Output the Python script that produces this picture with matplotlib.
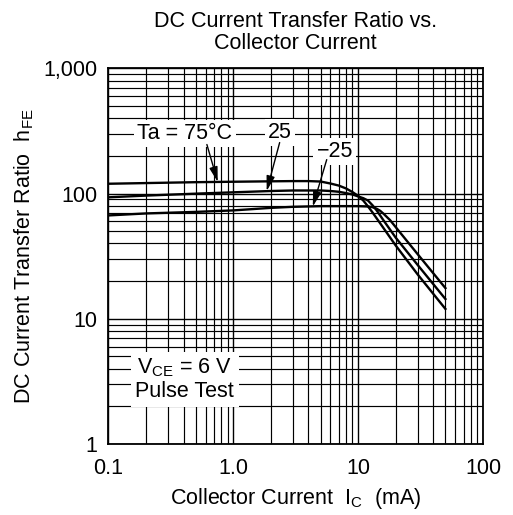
'''
hFE vs collector current, datasheet style log-log chart
'''

import matplotlib
matplotlib.use("Agg")
import matplotlib.pyplot as plt

plt.rcParams["font.family"] = ["Liberation Sans", "DejaVu Sans"]
plt.rcParams["mathtext.fontset"] = "custom"
plt.rcParams["mathtext.rm"] = "Liberation Sans"

# curve data (Ic in mA, hFE)
ic_75 = [0.1, 0.2, 0.5, 1, 2, 3, 4, 5, 6, 7, 8, 9, 10, 11, 12, 13, 15, 20, 30, 50]
hfe_75 = [120, 121.5, 123.5, 124.5, 125.5, 126, 126, 125, 120.5, 116, 110, 103, 96,
          88, 79, 71, 58, 38.5, 22.6, 12]

ic_25 = [0.1, 0.2, 0.5, 1, 2, 3, 5, 6, 7, 8, 9, 10, 11, 12, 13, 14, 16, 20, 30, 50]
hfe_25 = [93.5, 96.5, 100, 102.5, 105, 106, 106, 105, 103.5, 101, 98.5, 95, 92,
          88, 81, 74, 61, 44.5, 26.9, 14.4]

ic_m25 = [0.1, 0.2, 0.5, 1, 2, 3, 5, 8, 10, 12, 13, 14, 15, 16, 17, 18, 20, 30, 50]
hfe_m25 = [67, 69.5, 71.5, 73.5, 77, 78.5, 79.5, 79.5, 79.5, 79, 78, 76, 73, 69,
           65, 61.5, 54, 32.8, 17.6]

x_ticks = [0.1, 1, 10, 100]
x_ticklabels = ["0.1", "1.0", "10", "100"]
y_ticks = [1, 10, 100, 1000]
y_ticklabels = ["1", "10", "100", "1,000"]

fs = 15.5

fig = plt.figure(figsize=(5.13, 5.15), dpi=100)
ax = fig.add_axes([0.2115, 0.1379, 0.73, 0.7291])

ax.set_xscale("log")
ax.set_yscale("log")
ax.set_xlim(0.1, 100)
ax.set_ylim(1, 1000)

ax.plot(ic_75, hfe_75, color="black", lw=1.7, zorder=3)
ax.plot(ic_25, hfe_25, color="black", lw=1.7, zorder=3)
ax.plot(ic_m25, hfe_m25, color="black", lw=1.7, zorder=3)

# grid on every decade and subdivision
ax.grid(True, which="major", color="black", lw=1.0)
ax.grid(True, which="minor", color="black", lw=0.85)
ax.set_axisbelow(True)
for s in ax.spines.values():
    s.set_linewidth(1.3)

ax.set_xticks(x_ticks)
ax.set_xticklabels(x_ticklabels)
ax.set_yticks(y_ticks)
ax.set_yticklabels(y_ticklabels)
ax.tick_params(which="both", length=0, labelsize=fs)
ax.tick_params(axis="x", pad=10)
ax.tick_params(axis="y", pad=8)

ax.set_xlabel(r"Collector Current  I$_{\mathregular{C}}$  (mA)", fontsize=fs, labelpad=5)
ax.set_ylabel(r"DC Current Transfer Ratio  h$_{\mathregular{FE}}$", fontsize=fs, labelpad=5)
ax.set_title("DC Current Transfer Ratio vs.\nCollector Current", fontsize=fs,
             linespacing=1.05, pad=14)

# labels with white boxes and arrows
box = dict(boxstyle="square,pad=0.15", fc="white", ec="none")
ax.text(0.409, 302, "Ta = 75°C", fontsize=fs, ha="center", va="center", bbox=box, zorder=4)
ax.text(2.355, 307, "25", fontsize=fs, ha="center", va="center", bbox=box, zorder=4)
ax.text(6.49, 217, "\u221225", fontsize=fs, ha="center", va="center", bbox=box, zorder=4)
ax.text(0.409, 3.28, "V$_{\\mathregular{CE}}$ = 6 V\nPulse Test", fontsize=fs,
        ha="center", va="center", linespacing=1.15,
        bbox=dict(boxstyle="square,pad=0.2", fc="white", ec="none"), zorder=4)

arrow = dict(arrowstyle="-|>,head_length=0.9,head_width=0.25", color="black",
             lw=1, shrinkA=0, shrinkB=0)
ax.annotate("", xy=(0.75, 124), xytext=(0.614, 247), arrowprops=arrow, zorder=5)
ax.annotate("", xy=(1.85, 105), xytext=(2.35, 256), arrowprops=arrow, zorder=5)
ax.annotate("", xy=(4.33, 79), xytext=(5.6, 187), arrowprops=arrow, zorder=5)

fig.savefig("out.png", dpi=100)
